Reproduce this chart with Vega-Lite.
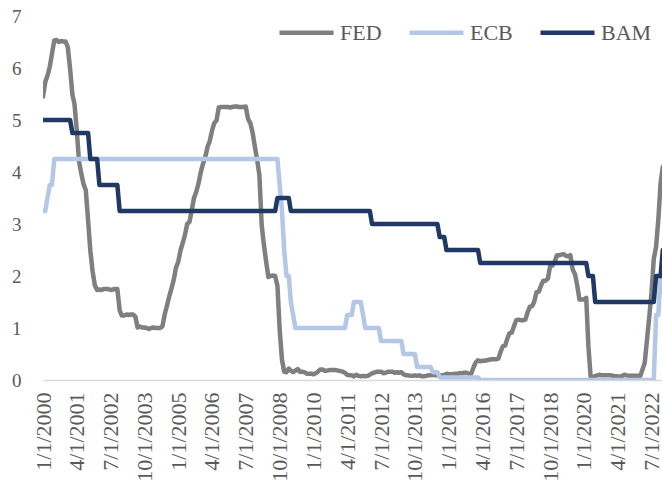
{
"$schema": "https://vega.github.io/schema/vega-lite/v6.json",
"width": 619, "height": 364,
"autosize": {"type": "none"},
"padding": {"left": 43, "top": 16, "right": 0, "bottom": 113},
"background": "#ffffff",
"config": {"view": {"stroke": null}, "font": "Liberation Serif"},
"data": {"values": [
{"d":"2000-01-01","FED":5.45,"ECB":3.25,"BAM":5},{"d":"2000-02-01","FED":5.73,"ECB":3.25,"BAM":5},{"d":"2000-03-01","FED":5.85,"ECB":3.5,"BAM":5},{"d":"2000-04-01","FED":6.02,"ECB":3.75,"BAM":5},{"d":"2000-05-01","FED":6.27,"ECB":3.75,"BAM":5},{"d":"2000-06-01","FED":6.53,"ECB":4.25,"BAM":5},{"d":"2000-07-01","FED":6.54,"ECB":4.25,"BAM":5},{"d":"2000-08-01","FED":6.5,"ECB":4.25,"BAM":5},{"d":"2000-09-01","FED":6.52,"ECB":4.25,"BAM":5},{"d":"2000-10-01","FED":6.51,"ECB":4.25,"BAM":5},{"d":"2000-11-01","FED":6.51,"ECB":4.25,"BAM":5},{"d":"2000-12-01","FED":6.4,"ECB":4.25,"BAM":5},
{"d":"2001-01-01","FED":5.98,"ECB":4.25,"BAM":5},{"d":"2001-02-01","FED":5.49,"ECB":4.25,"BAM":4.75},{"d":"2001-03-01","FED":5.31,"ECB":4.25,"BAM":4.75},{"d":"2001-04-01","FED":4.8,"ECB":4.25,"BAM":4.75},{"d":"2001-05-01","FED":4.21,"ECB":4.25,"BAM":4.75},{"d":"2001-06-01","FED":3.97,"ECB":4.25,"BAM":4.75},{"d":"2001-07-01","FED":3.77,"ECB":4.25,"BAM":4.75},{"d":"2001-08-01","FED":3.65,"ECB":4.25,"BAM":4.75},{"d":"2001-09-01","FED":3.07,"ECB":4.25,"BAM":4.75},{"d":"2001-10-01","FED":2.49,"ECB":4.25,"BAM":4.25},{"d":"2001-11-01","FED":2.09,"ECB":4.25,"BAM":4.25},{"d":"2001-12-01","FED":1.82,"ECB":4.25,"BAM":4.25},
{"d":"2002-01-01","FED":1.73,"ECB":4.25,"BAM":4.25},{"d":"2002-02-01","FED":1.74,"ECB":4.25,"BAM":3.75},{"d":"2002-03-01","FED":1.73,"ECB":4.25,"BAM":3.75},{"d":"2002-04-01","FED":1.75,"ECB":4.25,"BAM":3.75},{"d":"2002-05-01","FED":1.75,"ECB":4.25,"BAM":3.75},{"d":"2002-06-01","FED":1.75,"ECB":4.25,"BAM":3.75},{"d":"2002-07-01","FED":1.73,"ECB":4.25,"BAM":3.75},{"d":"2002-08-01","FED":1.74,"ECB":4.25,"BAM":3.75},{"d":"2002-09-01","FED":1.75,"ECB":4.25,"BAM":3.75},{"d":"2002-10-01","FED":1.75,"ECB":4.25,"BAM":3.75},{"d":"2002-11-01","FED":1.34,"ECB":4.25,"BAM":3.25},{"d":"2002-12-01","FED":1.24,"ECB":4.25,"BAM":3.25},
{"d":"2003-01-01","FED":1.24,"ECB":4.25,"BAM":3.25},{"d":"2003-02-01","FED":1.26,"ECB":4.25,"BAM":3.25},{"d":"2003-03-01","FED":1.25,"ECB":4.25,"BAM":3.25},{"d":"2003-04-01","FED":1.26,"ECB":4.25,"BAM":3.25},{"d":"2003-05-01","FED":1.26,"ECB":4.25,"BAM":3.25},{"d":"2003-06-01","FED":1.22,"ECB":4.25,"BAM":3.25},{"d":"2003-07-01","FED":1.01,"ECB":4.25,"BAM":3.25},{"d":"2003-08-01","FED":1.03,"ECB":4.25,"BAM":3.25},{"d":"2003-09-01","FED":1.01,"ECB":4.25,"BAM":3.25},{"d":"2003-10-01","FED":1.01,"ECB":4.25,"BAM":3.25},{"d":"2003-11-01","FED":1.0,"ECB":4.25,"BAM":3.25},{"d":"2003-12-01","FED":0.98,"ECB":4.25,"BAM":3.25},
{"d":"2004-01-01","FED":1.0,"ECB":4.25,"BAM":3.25},{"d":"2004-02-01","FED":1.01,"ECB":4.25,"BAM":3.25},{"d":"2004-03-01","FED":1.0,"ECB":4.25,"BAM":3.25},{"d":"2004-04-01","FED":1.0,"ECB":4.25,"BAM":3.25},{"d":"2004-05-01","FED":1.0,"ECB":4.25,"BAM":3.25},{"d":"2004-06-01","FED":1.03,"ECB":4.25,"BAM":3.25},{"d":"2004-07-01","FED":1.26,"ECB":4.25,"BAM":3.25},{"d":"2004-08-01","FED":1.43,"ECB":4.25,"BAM":3.25},{"d":"2004-09-01","FED":1.61,"ECB":4.25,"BAM":3.25},{"d":"2004-10-01","FED":1.76,"ECB":4.25,"BAM":3.25},{"d":"2004-11-01","FED":1.93,"ECB":4.25,"BAM":3.25},{"d":"2004-12-01","FED":2.16,"ECB":4.25,"BAM":3.25},
{"d":"2005-01-01","FED":2.28,"ECB":4.25,"BAM":3.25},{"d":"2005-02-01","FED":2.5,"ECB":4.25,"BAM":3.25},{"d":"2005-03-01","FED":2.63,"ECB":4.25,"BAM":3.25},{"d":"2005-04-01","FED":2.79,"ECB":4.25,"BAM":3.25},{"d":"2005-05-01","FED":3.0,"ECB":4.25,"BAM":3.25},{"d":"2005-06-01","FED":3.04,"ECB":4.25,"BAM":3.25},{"d":"2005-07-01","FED":3.26,"ECB":4.25,"BAM":3.25},{"d":"2005-08-01","FED":3.5,"ECB":4.25,"BAM":3.25},{"d":"2005-09-01","FED":3.62,"ECB":4.25,"BAM":3.25},{"d":"2005-10-01","FED":3.78,"ECB":4.25,"BAM":3.25},{"d":"2005-11-01","FED":4.0,"ECB":4.25,"BAM":3.25},{"d":"2005-12-01","FED":4.16,"ECB":4.25,"BAM":3.25},
{"d":"2006-01-01","FED":4.29,"ECB":4.25,"BAM":3.25},{"d":"2006-02-01","FED":4.49,"ECB":4.25,"BAM":3.25},{"d":"2006-03-01","FED":4.59,"ECB":4.25,"BAM":3.25},{"d":"2006-04-01","FED":4.79,"ECB":4.25,"BAM":3.25},{"d":"2006-05-01","FED":4.94,"ECB":4.25,"BAM":3.25},{"d":"2006-06-01","FED":4.99,"ECB":4.25,"BAM":3.25},{"d":"2006-07-01","FED":5.24,"ECB":4.25,"BAM":3.25},{"d":"2006-08-01","FED":5.25,"ECB":4.25,"BAM":3.25},{"d":"2006-09-01","FED":5.25,"ECB":4.25,"BAM":3.25},{"d":"2006-10-01","FED":5.25,"ECB":4.25,"BAM":3.25},{"d":"2006-11-01","FED":5.25,"ECB":4.25,"BAM":3.25},{"d":"2006-12-01","FED":5.24,"ECB":4.25,"BAM":3.25},
{"d":"2007-01-01","FED":5.25,"ECB":4.25,"BAM":3.25},{"d":"2007-02-01","FED":5.26,"ECB":4.25,"BAM":3.25},{"d":"2007-03-01","FED":5.26,"ECB":4.25,"BAM":3.25},{"d":"2007-04-01","FED":5.25,"ECB":4.25,"BAM":3.25},{"d":"2007-05-01","FED":5.25,"ECB":4.25,"BAM":3.25},{"d":"2007-06-01","FED":5.25,"ECB":4.25,"BAM":3.25},{"d":"2007-07-01","FED":5.26,"ECB":4.25,"BAM":3.25},{"d":"2007-08-01","FED":5.02,"ECB":4.25,"BAM":3.25},{"d":"2007-09-01","FED":4.94,"ECB":4.25,"BAM":3.25},{"d":"2007-10-01","FED":4.76,"ECB":4.25,"BAM":3.25},{"d":"2007-11-01","FED":4.49,"ECB":4.25,"BAM":3.25},{"d":"2007-12-01","FED":4.24,"ECB":4.25,"BAM":3.25},
{"d":"2008-01-01","FED":3.94,"ECB":4.25,"BAM":3.25},{"d":"2008-02-01","FED":2.98,"ECB":4.25,"BAM":3.25},{"d":"2008-03-01","FED":2.61,"ECB":4.25,"BAM":3.25},{"d":"2008-04-01","FED":2.28,"ECB":4.25,"BAM":3.25},{"d":"2008-05-01","FED":1.98,"ECB":4.25,"BAM":3.25},{"d":"2008-06-01","FED":2.0,"ECB":4.25,"BAM":3.25},{"d":"2008-07-01","FED":2.01,"ECB":4.25,"BAM":3.25},{"d":"2008-08-01","FED":2.0,"ECB":4.25,"BAM":3.25},{"d":"2008-09-01","FED":1.81,"ECB":4.25,"BAM":3.5},{"d":"2008-10-01","FED":0.97,"ECB":3.75,"BAM":3.5},{"d":"2008-11-01","FED":0.39,"ECB":3.25,"BAM":3.5},{"d":"2008-12-01","FED":0.16,"ECB":2.5,"BAM":3.5},
{"d":"2009-01-01","FED":0.15,"ECB":2,"BAM":3.5},{"d":"2009-02-01","FED":0.22,"ECB":2,"BAM":3.5},{"d":"2009-03-01","FED":0.18,"ECB":1.5,"BAM":3.25},{"d":"2009-04-01","FED":0.15,"ECB":1.25,"BAM":3.25},{"d":"2009-05-01","FED":0.18,"ECB":1,"BAM":3.25},{"d":"2009-06-01","FED":0.21,"ECB":1,"BAM":3.25},{"d":"2009-07-01","FED":0.16,"ECB":1,"BAM":3.25},{"d":"2009-08-01","FED":0.16,"ECB":1,"BAM":3.25},{"d":"2009-09-01","FED":0.15,"ECB":1,"BAM":3.25},{"d":"2009-10-01","FED":0.12,"ECB":1,"BAM":3.25},{"d":"2009-11-01","FED":0.12,"ECB":1,"BAM":3.25},{"d":"2009-12-01","FED":0.12,"ECB":1,"BAM":3.25},
{"d":"2010-01-01","FED":0.11,"ECB":1,"BAM":3.25},{"d":"2010-02-01","FED":0.13,"ECB":1,"BAM":3.25},{"d":"2010-03-01","FED":0.16,"ECB":1,"BAM":3.25},{"d":"2010-04-01","FED":0.2,"ECB":1,"BAM":3.25},{"d":"2010-05-01","FED":0.2,"ECB":1,"BAM":3.25},{"d":"2010-06-01","FED":0.18,"ECB":1,"BAM":3.25},{"d":"2010-07-01","FED":0.18,"ECB":1,"BAM":3.25},{"d":"2010-08-01","FED":0.19,"ECB":1,"BAM":3.25},{"d":"2010-09-01","FED":0.19,"ECB":1,"BAM":3.25},{"d":"2010-10-01","FED":0.19,"ECB":1,"BAM":3.25},{"d":"2010-11-01","FED":0.19,"ECB":1,"BAM":3.25},{"d":"2010-12-01","FED":0.18,"ECB":1,"BAM":3.25},
{"d":"2011-01-01","FED":0.17,"ECB":1,"BAM":3.25},{"d":"2011-02-01","FED":0.16,"ECB":1,"BAM":3.25},{"d":"2011-03-01","FED":0.14,"ECB":1,"BAM":3.25},{"d":"2011-04-01","FED":0.1,"ECB":1.25,"BAM":3.25},{"d":"2011-05-01","FED":0.09,"ECB":1.25,"BAM":3.25},{"d":"2011-06-01","FED":0.09,"ECB":1.25,"BAM":3.25},{"d":"2011-07-01","FED":0.07,"ECB":1.5,"BAM":3.25},{"d":"2011-08-01","FED":0.1,"ECB":1.5,"BAM":3.25},{"d":"2011-09-01","FED":0.08,"ECB":1.5,"BAM":3.25},{"d":"2011-10-01","FED":0.07,"ECB":1.5,"BAM":3.25},{"d":"2011-11-01","FED":0.08,"ECB":1.25,"BAM":3.25},{"d":"2011-12-01","FED":0.07,"ECB":1,"BAM":3.25},
{"d":"2012-01-01","FED":0.08,"ECB":1,"BAM":3.25},{"d":"2012-02-01","FED":0.1,"ECB":1,"BAM":3.25},{"d":"2012-03-01","FED":0.13,"ECB":1,"BAM":3},{"d":"2012-04-01","FED":0.14,"ECB":1,"BAM":3},{"d":"2012-05-01","FED":0.16,"ECB":1,"BAM":3},{"d":"2012-06-01","FED":0.16,"ECB":1,"BAM":3},{"d":"2012-07-01","FED":0.16,"ECB":0.75,"BAM":3},{"d":"2012-08-01","FED":0.13,"ECB":0.75,"BAM":3},{"d":"2012-09-01","FED":0.14,"ECB":0.75,"BAM":3},{"d":"2012-10-01","FED":0.16,"ECB":0.75,"BAM":3},{"d":"2012-11-01","FED":0.16,"ECB":0.75,"BAM":3},{"d":"2012-12-01","FED":0.16,"ECB":0.75,"BAM":3},
{"d":"2013-01-01","FED":0.14,"ECB":0.75,"BAM":3},{"d":"2013-02-01","FED":0.15,"ECB":0.75,"BAM":3},{"d":"2013-03-01","FED":0.14,"ECB":0.75,"BAM":3},{"d":"2013-04-01","FED":0.15,"ECB":0.75,"BAM":3},{"d":"2013-05-01","FED":0.11,"ECB":0.5,"BAM":3},{"d":"2013-06-01","FED":0.09,"ECB":0.5,"BAM":3},{"d":"2013-07-01","FED":0.09,"ECB":0.5,"BAM":3},{"d":"2013-08-01","FED":0.08,"ECB":0.5,"BAM":3},{"d":"2013-09-01","FED":0.08,"ECB":0.5,"BAM":3},{"d":"2013-10-01","FED":0.09,"ECB":0.5,"BAM":3},{"d":"2013-11-01","FED":0.08,"ECB":0.25,"BAM":3},{"d":"2013-12-01","FED":0.09,"ECB":0.25,"BAM":3},
{"d":"2014-01-01","FED":0.07,"ECB":0.25,"BAM":3},{"d":"2014-02-01","FED":0.07,"ECB":0.25,"BAM":3},{"d":"2014-03-01","FED":0.08,"ECB":0.25,"BAM":3},{"d":"2014-04-01","FED":0.09,"ECB":0.25,"BAM":3},{"d":"2014-05-01","FED":0.09,"ECB":0.25,"BAM":3},{"d":"2014-06-01","FED":0.1,"ECB":0.15,"BAM":3},{"d":"2014-07-01","FED":0.09,"ECB":0.15,"BAM":3},{"d":"2014-08-01","FED":0.09,"ECB":0.15,"BAM":3},{"d":"2014-09-01","FED":0.09,"ECB":0.05,"BAM":2.75},{"d":"2014-10-01","FED":0.09,"ECB":0.05,"BAM":2.75},{"d":"2014-11-01","FED":0.09,"ECB":0.05,"BAM":2.75},{"d":"2014-12-01","FED":0.12,"ECB":0.05,"BAM":2.5},
{"d":"2015-01-01","FED":0.11,"ECB":0.05,"BAM":2.5},{"d":"2015-02-01","FED":0.11,"ECB":0.05,"BAM":2.5},{"d":"2015-03-01","FED":0.11,"ECB":0.05,"BAM":2.5},{"d":"2015-04-01","FED":0.12,"ECB":0.05,"BAM":2.5},{"d":"2015-05-01","FED":0.12,"ECB":0.05,"BAM":2.5},{"d":"2015-06-01","FED":0.13,"ECB":0.05,"BAM":2.5},{"d":"2015-07-01","FED":0.13,"ECB":0.05,"BAM":2.5},{"d":"2015-08-01","FED":0.14,"ECB":0.05,"BAM":2.5},{"d":"2015-09-01","FED":0.14,"ECB":0.05,"BAM":2.5},{"d":"2015-10-01","FED":0.12,"ECB":0.05,"BAM":2.5},{"d":"2015-11-01","FED":0.12,"ECB":0.05,"BAM":2.5},{"d":"2015-12-01","FED":0.24,"ECB":0.05,"BAM":2.5},
{"d":"2016-01-01","FED":0.34,"ECB":0.05,"BAM":2.5},{"d":"2016-02-01","FED":0.38,"ECB":0.05,"BAM":2.5},{"d":"2016-03-01","FED":0.36,"ECB":0,"BAM":2.25},{"d":"2016-04-01","FED":0.37,"ECB":0,"BAM":2.25},{"d":"2016-05-01","FED":0.37,"ECB":0,"BAM":2.25},{"d":"2016-06-01","FED":0.38,"ECB":0,"BAM":2.25},{"d":"2016-07-01","FED":0.39,"ECB":0,"BAM":2.25},{"d":"2016-08-01","FED":0.4,"ECB":0,"BAM":2.25},{"d":"2016-09-01","FED":0.4,"ECB":0,"BAM":2.25},{"d":"2016-10-01","FED":0.4,"ECB":0,"BAM":2.25},{"d":"2016-11-01","FED":0.41,"ECB":0,"BAM":2.25},{"d":"2016-12-01","FED":0.54,"ECB":0,"BAM":2.25},
{"d":"2017-01-01","FED":0.65,"ECB":0,"BAM":2.25},{"d":"2017-02-01","FED":0.66,"ECB":0,"BAM":2.25},{"d":"2017-03-01","FED":0.79,"ECB":0,"BAM":2.25},{"d":"2017-04-01","FED":0.9,"ECB":0,"BAM":2.25},{"d":"2017-05-01","FED":0.91,"ECB":0,"BAM":2.25},{"d":"2017-06-01","FED":1.04,"ECB":0,"BAM":2.25},{"d":"2017-07-01","FED":1.15,"ECB":0,"BAM":2.25},{"d":"2017-08-01","FED":1.16,"ECB":0,"BAM":2.25},{"d":"2017-09-01","FED":1.15,"ECB":0,"BAM":2.25},{"d":"2017-10-01","FED":1.15,"ECB":0,"BAM":2.25},{"d":"2017-11-01","FED":1.16,"ECB":0,"BAM":2.25},{"d":"2017-12-01","FED":1.3,"ECB":0,"BAM":2.25},
{"d":"2018-01-01","FED":1.41,"ECB":0,"BAM":2.25},{"d":"2018-02-01","FED":1.42,"ECB":0,"BAM":2.25},{"d":"2018-03-01","FED":1.51,"ECB":0,"BAM":2.25},{"d":"2018-04-01","FED":1.69,"ECB":0,"BAM":2.25},{"d":"2018-05-01","FED":1.7,"ECB":0,"BAM":2.25},{"d":"2018-06-01","FED":1.82,"ECB":0,"BAM":2.25},{"d":"2018-07-01","FED":1.91,"ECB":0,"BAM":2.25},{"d":"2018-08-01","FED":1.91,"ECB":0,"BAM":2.25},{"d":"2018-09-01","FED":1.95,"ECB":0,"BAM":2.25},{"d":"2018-10-01","FED":2.19,"ECB":0,"BAM":2.25},{"d":"2018-11-01","FED":2.2,"ECB":0,"BAM":2.25},{"d":"2018-12-01","FED":2.27,"ECB":0,"BAM":2.25},
{"d":"2019-01-01","FED":2.4,"ECB":0,"BAM":2.25},{"d":"2019-02-01","FED":2.4,"ECB":0,"BAM":2.25},{"d":"2019-03-01","FED":2.41,"ECB":0,"BAM":2.25},{"d":"2019-04-01","FED":2.42,"ECB":0,"BAM":2.25},{"d":"2019-05-01","FED":2.39,"ECB":0,"BAM":2.25},{"d":"2019-06-01","FED":2.38,"ECB":0,"BAM":2.25},{"d":"2019-07-01","FED":2.4,"ECB":0,"BAM":2.25},{"d":"2019-08-01","FED":2.13,"ECB":0,"BAM":2.25},{"d":"2019-09-01","FED":2.04,"ECB":0,"BAM":2.25},{"d":"2019-10-01","FED":1.83,"ECB":0,"BAM":2.25},{"d":"2019-11-01","FED":1.55,"ECB":0,"BAM":2.25},{"d":"2019-12-01","FED":1.55,"ECB":0,"BAM":2.25},
{"d":"2020-01-01","FED":1.55,"ECB":0,"BAM":2.25},{"d":"2020-02-01","FED":1.58,"ECB":0,"BAM":2.25},{"d":"2020-03-01","FED":0.65,"ECB":0,"BAM":2},{"d":"2020-04-01","FED":0.05,"ECB":0,"BAM":2},{"d":"2020-05-01","FED":0.05,"ECB":0,"BAM":2},{"d":"2020-06-01","FED":0.08,"ECB":0,"BAM":1.5},{"d":"2020-07-01","FED":0.09,"ECB":0,"BAM":1.5},{"d":"2020-08-01","FED":0.1,"ECB":0,"BAM":1.5},{"d":"2020-09-01","FED":0.09,"ECB":0,"BAM":1.5},{"d":"2020-10-01","FED":0.09,"ECB":0,"BAM":1.5},{"d":"2020-11-01","FED":0.09,"ECB":0,"BAM":1.5},{"d":"2020-12-01","FED":0.09,"ECB":0,"BAM":1.5},
{"d":"2021-01-01","FED":0.09,"ECB":0,"BAM":1.5},{"d":"2021-02-01","FED":0.08,"ECB":0,"BAM":1.5},{"d":"2021-03-01","FED":0.07,"ECB":0,"BAM":1.5},{"d":"2021-04-01","FED":0.07,"ECB":0,"BAM":1.5},{"d":"2021-05-01","FED":0.06,"ECB":0,"BAM":1.5},{"d":"2021-06-01","FED":0.08,"ECB":0,"BAM":1.5},{"d":"2021-07-01","FED":0.1,"ECB":0,"BAM":1.5},{"d":"2021-08-01","FED":0.09,"ECB":0,"BAM":1.5},{"d":"2021-09-01","FED":0.08,"ECB":0,"BAM":1.5},{"d":"2021-10-01","FED":0.08,"ECB":0,"BAM":1.5},{"d":"2021-11-01","FED":0.08,"ECB":0,"BAM":1.5},{"d":"2021-12-01","FED":0.08,"ECB":0,"BAM":1.5},
{"d":"2022-01-01","FED":0.08,"ECB":0,"BAM":1.5},{"d":"2022-02-01","FED":0.08,"ECB":0,"BAM":1.5},{"d":"2022-03-01","FED":0.2,"ECB":0,"BAM":1.5},{"d":"2022-04-01","FED":0.33,"ECB":0,"BAM":1.5},{"d":"2022-05-01","FED":0.77,"ECB":0,"BAM":1.5},{"d":"2022-06-01","FED":1.21,"ECB":0,"BAM":1.5},{"d":"2022-07-01","FED":1.68,"ECB":0,"BAM":1.5},{"d":"2022-08-01","FED":2.33,"ECB":0,"BAM":1.5},{"d":"2022-09-01","FED":2.56,"ECB":1.25,"BAM":2},{"d":"2022-10-01","FED":3.08,"ECB":1.25,"BAM":2},{"d":"2022-11-01","FED":3.78,"ECB":2,"BAM":2},{"d":"2022-12-01","FED":4.1,"ECB":2,"BAM":2.5}
]},
"transform": [{"fold": ["FED", "ECB", "BAM"], "as": ["series", "rate"]}],
"mark": {"type": "line", "strokeWidth": 4.5, "strokeJoin": "round", "strokeCap": "round", "clip": true},
"encoding": {
  "x": {"field": "d", "type": "temporal",
    "scale": {"type": "utc", "nice": false, "domain": [{"year": 2000, "month": 1, "date": 1, "utc": true}, {"year": 2022, "month": 11, "date": 20, "utc": true}]},
    "axis": {"title": null, "labelExpr": "utcFormat(datum.value, '%-m/%-d/%Y')",
      "values": [
        {"year": 2000, "month": 1, "date": 1, "utc": true},
        {"year": 2001, "month": 4, "date": 1, "utc": true},
        {"year": 2002, "month": 7, "date": 1, "utc": true},
        {"year": 2003, "month": 10, "date": 1, "utc": true},
        {"year": 2005, "month": 1, "date": 1, "utc": true},
        {"year": 2006, "month": 4, "date": 1, "utc": true},
        {"year": 2007, "month": 7, "date": 1, "utc": true},
        {"year": 2008, "month": 10, "date": 1, "utc": true},
        {"year": 2010, "month": 1, "date": 1, "utc": true},
        {"year": 2011, "month": 4, "date": 1, "utc": true},
        {"year": 2012, "month": 7, "date": 1, "utc": true},
        {"year": 2013, "month": 10, "date": 1, "utc": true},
        {"year": 2015, "month": 1, "date": 1, "utc": true},
        {"year": 2016, "month": 4, "date": 1, "utc": true},
        {"year": 2017, "month": 7, "date": 1, "utc": true},
        {"year": 2018, "month": 10, "date": 1, "utc": true},
        {"year": 2020, "month": 1, "date": 1, "utc": true},
        {"year": 2021, "month": 4, "date": 1, "utc": true},
        {"year": 2022, "month": 7, "date": 1, "utc": true}
      ],
      "labelAngle": -90, "labelAlign": "right", "labelBaseline": "middle",
      "labelFont": "Liberation Serif", "labelFontSize": 22, "labelColor": "#595959",
      "labelPadding": 12, "ticks": false, "tickSize": 0,
      "domainColor": "#d9d9d9", "domainWidth": 1.5, "grid": false,
      "labelOverlap": false, "labelBound": false, "labelFlush": false}},
  "y": {"field": "rate", "type": "quantitative",
    "scale": {"domain": [0, 7], "nice": false},
    "axis": {"title": null, "values": [0, 1, 2, 3, 4, 5, 6, 7], "grid": false, "domain": false,
      "ticks": false, "tickSize": 0, "labelPadding": 22, "labelFontSize": 19,
      "labelColor": "#595959", "labelFont": "Liberation Serif", "labelFlush": false}},
  "color": {"field": "series", "type": "nominal",
    "scale": {"domain": ["FED", "ECB", "BAM"], "range": ["#7f7f7f", "#b4c7e7", "#1f3864"]},
    "legend": {"title": null, "orient": "none", "legendX": 234, "legendY": -13, "direction": "horizontal",
      "symbolType": "stroke", "symbolSize": 2916, "symbolStrokeWidth": 4.5,
      "labelFontSize": 22, "labelColor": "#595959", "labelFont": "Liberation Serif",
      "labelOffset": 4, "columnPadding": 18, "padding": 0}}
}
}
